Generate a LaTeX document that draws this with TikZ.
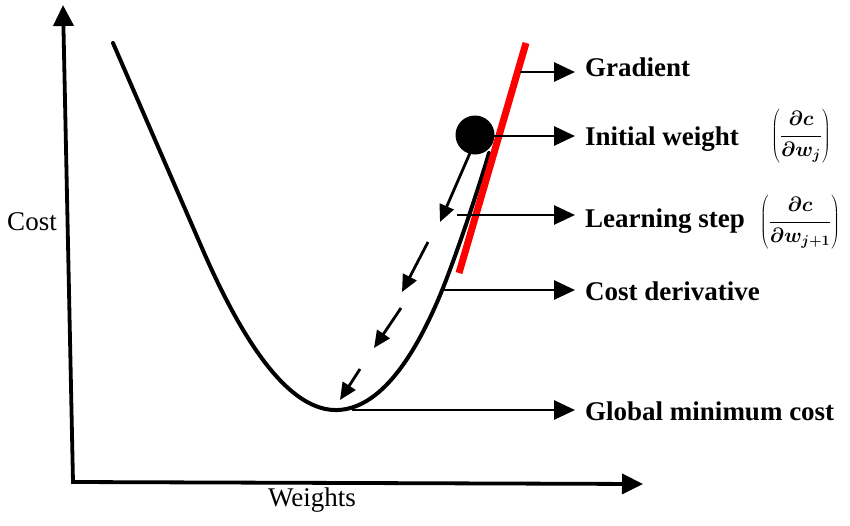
\documentclass[tikz,border=0pt]{standalone}
\usepackage{fontspec}
\setmainfont{Liberation Serif}
\usetikzlibrary{arrows.meta}
\begin{document}
\begin{tikzpicture}[x=1pt,y=-1pt,
  conn/.style={line width=2.8pt,-{Triangle[length=21pt,width=19pt]},shorten >=10pt},
  stp/.style={line width=2.8pt,-{Triangle[length=17pt,width=15pt]}},
  ax/.style={line width=3.8pt,line join=miter,{Triangle[length=21pt,width=20pt]}-{Triangle[length=21pt,width=20pt]}},
  lbl/.style={anchor=base west,inner sep=0pt,font=\fontsize{27}{32}\selectfont\bfseries},
  axl/.style={inner sep=0pt,font=\fontsize{27}{32}\selectfont},
  frac/.style={inner sep=0pt,font=\fontsize{21}{26}\selectfont\boldmath},
  curve/.style={line width=4pt,line cap=round}
]
\useasboundingbox (0,0) rectangle (850,525);

% axes
\coordinate (ytop) at (63,5);
\coordinate (O) at (73,482);
\coordinate (xend) at (643,484);
\draw[ax] (ytop) -- (O) -- (xend);
\node[axl] (costax) at (32,222) {Cost};
\node[axl] (wax) at (312,500) {Weights};

% cost curve
\draw[curve] (113,43) -- (205,255)
  .. controls (245,345) and (290,412) .. (338,410)
  .. controls (385,408) and (420,345) .. (443,288)
  .. controls (458,250) and (478,190) .. (489,153);

% ball and gradient line
\node[circle,fill=black,minimum size=39pt,inner sep=0pt] (ball) at (475,135) {};
\draw[red,line width=7pt] (526,43) -- (459,273);

% descent steps
\coordinate (s1a) at (470,153); \coordinate (s1b) at (440,222);
\coordinate (s2a) at (428,242); \coordinate (s2b) at (402,292);
\coordinate (s3a) at (401,308); \coordinate (s3b) at (374,348);
\coordinate (s4a) at (360,369); \coordinate (s4b) at (340,400);
\draw[stp] (s1a) -- (s1b);
\draw[stp] (s2a) -- (s2b);
\draw[stp] (s3a) -- (s3b);
\draw[stp] (s4a) -- (s4b);

% labels
\node[lbl] (gl) at (585,76) {Gradient};
\node[lbl] (il) at (585,145) {Initial weight};
\node[lbl] (ll) at (585,227) {Learning step};
\node[lbl] (cl) at (585,300) {Cost derivative};
\node[lbl] (ml) at (585,420) {Global minimum cost};
\node[frac] (f1) at (801,136) {$\displaystyle\left(\frac{\partial c}{\partial w_j}\right)$};
\node[frac] (f2) at (800,222) {$\displaystyle\left(\frac{\partial c}{\partial w_{j+1}}\right)$};

% connectors
\coordinate (gS) at (520,72);
\coordinate (iS) at (493,136);
\coordinate (lS) at (457,215);
\coordinate (cS) at (442,290);
\coordinate (mS) at (352,410);
\draw[conn] (gS) -- (gS -| gl.west);
\draw[conn] (iS) -- (iS -| il.west);
\draw[conn] (lS) -- (lS -| ll.west);
\draw[conn] (cS) -- (cS -| cl.west);
\draw[conn] (mS) -- (mS -| ml.west);
\end{tikzpicture}
\end{document}
